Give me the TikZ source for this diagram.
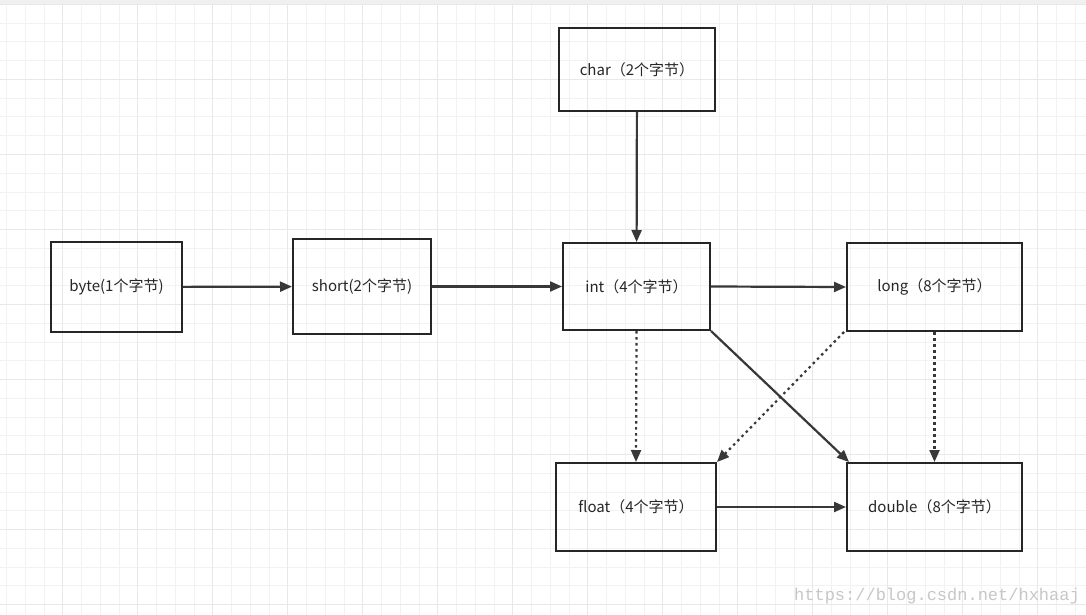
\documentclass[tikz,border=0pt]{standalone}
\usepackage{fontspec}
\setmainfont{Noto Sans CJK SC}
\newfontfamily\wm{Liberation Mono}
\usetikzlibrary{arrows.meta}
\begin{document}
\begin{tikzpicture}[x=1pt,y=-1pt,
  bx/.style={draw=black!85,line width=2pt,inner sep=0pt,font=\fontsize{15}{17}\selectfont,text=black!85},
  ar/.style={draw=black!78,line width=2.2pt,-{Triangle[length=12pt,width=10pt]}},
  dt/.style={ar,dash pattern=on 2.5pt off 3.5pt}]
\useasboundingbox (0,0) rectangle (1086,615);
\fill[white] (0,0) rectangle (1086,615);
\fill[black!6] (0,0) rectangle (1086,4);
\foreach \i in {0,...,58} {\draw[black!5,line width=1pt] (6.5+\i*18.75,4) -- (6.5+\i*18.75,615);}
\foreach \i in {0,...,32} {\draw[black!5,line width=1pt] (0,4.5+\i*18.75) -- (1086,4.5+\i*18.75);}
\foreach \i in {0,...,14} {\draw[black!9,line width=1pt] (6.5+56.25+\i*75-75,4) -- (6.5+56.25+\i*75-75,615);}
\foreach \i in {0,...,8} {\draw[black!9,line width=1pt] (0,4.5+\i*75) -- (1086,4.5+\i*75);}
\node[bx,minimum width=131pt,minimum height=90pt] (byte) at (116.5,287) {byte(1个字节)};
\node[bx,minimum width=138pt,minimum height=95pt] (short) at (362,286.5) {short(2个字节)};
\node[bx,minimum width=147pt,minimum height=87pt] (int) at (636.5,286.5) {int（4个字节）};
\node[bx,minimum width=156pt,minimum height=83pt] (char) at (637,69.5) {char（2个字节）};
\node[bx,minimum width=175pt,minimum height=88pt] (long) at (934.5,287) {long（8个字节）};
\node[bx,minimum width=160pt,minimum height=88pt] (float) at (636,507) {float（4个字节）};
\node[bx,minimum width=175pt,minimum height=88pt] (double) at (934.5,507) {double（8个字节）};
\draw[ar] (byte) -- (short);
\draw[ar] (short) -- (int);
\draw[ar] (int.east) -- (long.west);
\draw[ar] (char) -- (int);
\draw[dt] (int.south) -- (float.north);
\draw[ar] (int.south east) -- ([xshift=3pt]double.north west);
\draw[dt] ([xshift=-2pt]long.south west) -- (float.north east);
\draw[dt] (long.south) -- (double.north);
\draw[ar] (float.east) -- (double.west);
\node[anchor=east,text=black!22,font=\wm\fontsize{17}{17}\selectfont,inner sep=0pt] (wmk) at (1080,596) {https://blog.csdn.net/hxhaaj};
\end{tikzpicture}
\end{document}
